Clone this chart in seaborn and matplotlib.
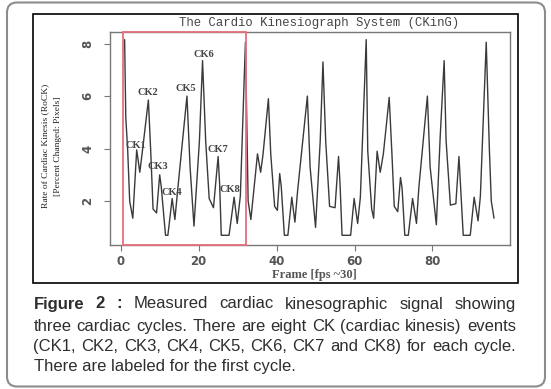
import matplotlib
matplotlib.use("Agg")
import matplotlib.pyplot as plt
import seaborn as sns
import pandas as pd
from matplotlib.patches import Rectangle, FancyBboxPatch

# signal (frame, rate of cardiac kinesis)
frame = [1.0, 1.3, 1.8, 2.3, 3.1, 4.1, 4.9, 5.6, 7.1, 7.7, 8.3, 9.2, 10.0, 10.4,
         11.5, 12.1, 13.2, 13.9, 14.6, 17.0, 17.8, 18.8, 20.2, 21.0, 21.8, 22.7,
         23.8, 25.0, 25.4, 25.8, 27.8, 29.1, 29.9, 30.7, 32.0,
         32.3, 32.7, 33.4, 35.1, 35.9, 36.5, 37.9, 38.5, 39.5, 40.2, 40.8, 41.2,
         42.0, 42.9, 43.9, 44.7, 45.4, 47.9, 48.6, 50.0, 51.2, 51.9, 52.6, 53.6,
         55.0, 55.9, 56.3, 56.8, 59.0, 59.9, 60.8, 61.5, 63.0,
         63.4, 64.4, 64.9, 65.8, 66.6, 67.4, 68.9, 69.6, 70.2, 71.1, 71.8, 72.2,
         72.9, 73.8, 74.9, 75.9, 76.5, 78.7, 79.4, 81.0, 82.0, 83.0, 83.5, 84.6,
         86.0, 86.8, 87.2, 87.9, 89.7, 90.7, 91.7, 92.3, 93.8, 94.6, 95.1, 95.8]
rock = [8.15, 5.2, 3.9, 2.0, 1.35, 3.95, 3.1, 3.95, 5.85, 3.9, 1.7, 1.55, 3.0, 2.55,
        0.7, 0.7, 2.1, 1.3, 2.4, 6.0, 3.3, 1.05, 4.3, 7.35, 4.3, 2.1,
        1.75, 3.7, 2.6, 0.7, 0.7, 2.15, 1.15, 2.2, 8.05,
        5.5, 2.0, 1.3, 3.8, 3.1, 3.75, 5.9, 3.8, 1.8, 1.65, 3.05, 2.55,
        0.7, 0.7, 2.15, 1.2, 2.4, 6.0, 3.3, 1.0, 4.3, 7.3, 4.3, 1.8,
        1.75, 3.7, 2.6, 0.7, 0.7, 2.1, 1.15, 2.15, 8.15,
        3.9, 1.7, 1.35, 3.9, 3.1, 3.8, 5.95, 3.8, 1.8, 1.6, 2.9, 2.5,
        0.7, 0.7, 2.1, 1.15, 2.5, 6.0, 3.3, 1.1, 4.5, 7.35, 4.3, 1.85,
        1.9, 3.7, 2.6, 0.7, 0.7, 2.15, 1.25, 2.2, 8.05, 4.0, 2.0, 1.35]

ck_labels = ["CK1", "CK2", "CK3", "CK4", "CK5", "CK6", "CK7", "CK8"]
ck_frame = [3.9, 7.0, 9.5, 13.1, 16.7, 21.2, 24.9, 28.1]
ck_value = [4.13, 6.12, 3.3, 2.31, 6.29, 7.6, 3.96, 2.44]

xticks = [0, 20, 40, 60, 80]
yticks = [2, 4, 6, 8]
first_cycle = [0.7, 32.1]

title = "The Cardio Kinesiograph System (CKinG)"
xlabel = "Frame [fps ~30]"
ylabel = "Rate of Cardiac Kinesis (RoCK)\n[Percent Changed: Pixels]"
caption = [
    [("Figure", "bold"), ("2", "bold"), (":", "bold"), ("Measured", "normal"),
     ("cardiac", "normal"), ("kinesographic", "normal"), ("signal", "normal"),
     ("showing", "normal")],
    [(w, "normal") for w in
     "three cardiac cycles. There are eight CK (cardiac kinesis) events".split()],
    [(w, "normal") for w in
     "(CK1, CK2, CK3, CK4, CK5, CK6, CK7 and CK8) for each cycle.".split()],
    "There are labeled for the first cycle.",
]

sns.set_theme(style="white")
plt.rcParams["font.family"] = ["DejaVu Sans"]

W, H = 551, 389
fig = plt.figure(figsize=(W / 100, H / 100), dpi=100)

# background layer in pixel units: rounded page border, black figure frame, caption
bg = fig.add_axes([0, 0, 1, 1])
bg.set_xlim(0, W)
bg.set_ylim(H, 0)
bg.axis("off")
bg.add_patch(FancyBboxPatch((7, 2.5), 538, 384, boxstyle="round,pad=0,rounding_size=10",
                            fc="white", ec="#8c8c8c", lw=1.5))
bg.add_patch(Rectangle((32.5, 14), 485.5, 268.5, fill=False, ec="black", lw=1.2))

ax = fig.add_axes([110 / W, 1 - 245 / H, 400 / W, 213 / H])
df = pd.DataFrame({"frame": frame, "rock": rock})
sns.lineplot(data=df, x="frame", y="rock", ax=ax, sort=False, estimator=None,
             color="#3a3a3a", lw=1.0)
ax.set_xlim(-2.75, 99.9)
ax.set_ylim(0.33, 8.44)
ax.set_xticks(xticks)
ax.set_yticks(yticks)
for s in ax.spines.values():
    s.set_color("#777777")
    s.set_linewidth(1.0)
ax.tick_params(axis="both", direction="out", length=4.5, width=0.8, color="#777777",
               labelcolor="#555555", labelsize=8.5, bottom=True, left=True)
ax.tick_params(axis="x", pad=2.5)
ax.tick_params(axis="y", pad=7)
for lbl in ax.get_xticklabels() + ax.get_yticklabels():
    lbl.set_fontweight("bold")
plt.setp(ax.get_yticklabels(), rotation=90, va="center", ha="right")

# first cardiac cycle box
ax.add_patch(Rectangle((first_cycle[0], 0), first_cycle[1] - first_cycle[0], 1,
                       transform=ax.get_xaxis_transform(), fill=False,
                       ec="#e5707c", lw=1.3, zorder=3, clip_on=False))

for lab, fx, fy in zip(ck_labels, ck_frame, ck_value):
    ax.text(fx, fy, lab, ha="center", va="center", fontsize=7.5, fontweight="bold",
            family="Liberation Serif", color="#444444")

ax.set_title(title, x=0.523, y=1 + (31.7 - 22.7) / 213, pad=0, va="center",
             family="Liberation Mono", fontsize=8.8, color="#444444")
ax.set_xlabel(xlabel, family="Liberation Serif", fontweight="bold", fontsize=9,
              color="#555555", va="center")
ax.xaxis.set_label_coords((314 - 110) / 400, -(275 - 245) / 213)
ax.set_ylabel(ylabel, family="Liberation Serif", fontsize=6.8, color="#222222",
              va="center", linespacing=1.8)
ax.yaxis.set_label_coords(-(110 - 52) / 400, (245 - 146) / 213)

# justified caption
fig.canvas.draw()
renderer = fig.canvas.get_renderer()
x0, x1 = 33.5, 516
line_y = [304, 326.5, 346.5, 366.5]
cap_size = 12
for words, y in zip(caption, line_y):
    if isinstance(words, str):
        bg.text(x0, y, words, ha="left", va="center", fontsize=cap_size,
                family="Liberation Sans", color="#2e2e2e")
        continue
    texts = [bg.text(0, y, w, ha="left", va="center", fontsize=cap_size, fontweight=wt,
                     family="Liberation Sans", color="#2e2e2e") for w, wt in words]
    widths = [t.get_window_extent(renderer).width for t in texts]
    gap = (x1 - x0 - sum(widths)) / (len(texts) - 1)
    x = x0
    for t, w in zip(texts, widths):
        t.set_x(x)
        x += w + gap

fig.savefig("out.png", dpi=100)
